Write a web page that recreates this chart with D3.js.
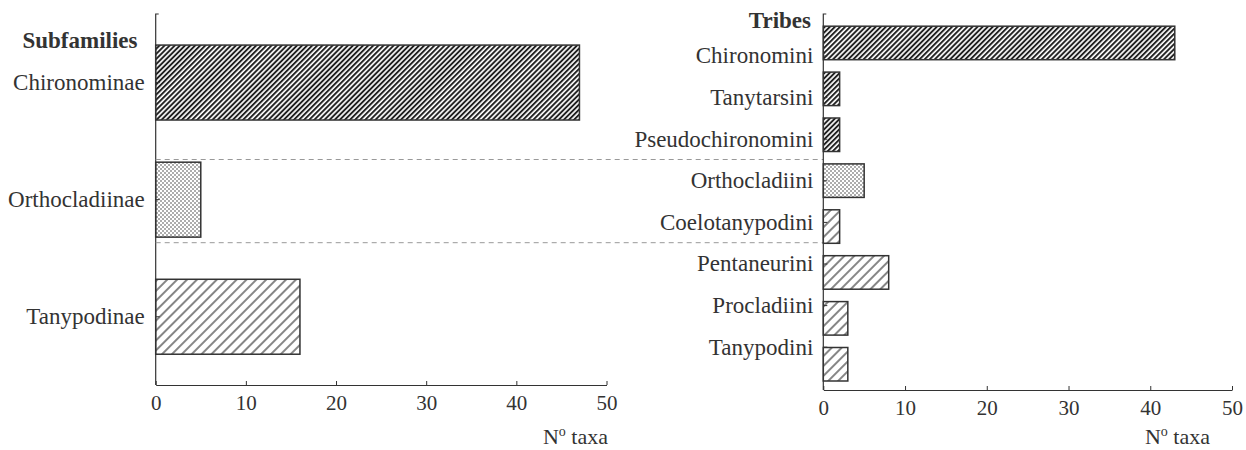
<!DOCTYPE html>
<html>
<head>
<meta charset="utf-8">
<script src="https://cdn.jsdelivr.net/npm/d3@7"></script>
<style>
  body { margin: 0; background: #fff; }
  svg text { font-family: "Liberation Serif", "Times New Roman", serif; fill: #333; }
</style>
</head>
<body>
<div id="chart"></div>
<script>
// data
var subfamilies = ["Chironominae", "Orthocladiinae", "Tanypodinae"];
var subfamilyTaxa = [47, 5, 16];
var subfamilyFill = ["dense", "dots", "sparse"];

var tribes = ["Chironomini", "Tanytarsini", "Pseudochironomini", "Orthocladiini",
              "Coelotanypodini", "Pentaneurini", "Procladiini", "Tanypodini"];
var tribeTaxa = [43, 2, 2, 5, 2, 8, 3, 3];
var tribeFill = ["dense", "dense", "dense", "dots", "sparse", "sparse", "sparse", "sparse"];

var xTicks = [0, 10, 20, 30, 40, 50];
var dividersAfter = ["Pseudochironomini", "Coelotanypodini"];

var svg = d3.select("#chart").append("svg").attr("width", 1246).attr("height", 450);

// hatch patterns
var defs = svg.append("defs");
var dense = defs.append("pattern").attr("id", "dense").attr("patternUnits", "userSpaceOnUse")
  .attr("width", 3.6).attr("height", 3.6).attr("patternTransform", "rotate(45)");
dense.append("rect").attr("width", 3.6).attr("height", 3.6).attr("fill", "#fff");
dense.append("line").attr("x1", 1).attr("y1", 0).attr("x2", 1).attr("y2", 3.6)
  .attr("stroke", "#1a1a1a").attr("stroke-width", 1.9);

var sparse = defs.append("pattern").attr("id", "sparse").attr("patternUnits", "userSpaceOnUse")
  .attr("width", 7).attr("height", 7).attr("patternTransform", "rotate(45)");
sparse.append("rect").attr("width", 7).attr("height", 7).attr("fill", "#fff");
sparse.append("line").attr("x1", 1).attr("y1", 0).attr("x2", 1).attr("y2", 7)
  .attr("stroke", "#222").attr("stroke-width", 1.1);

var dots = defs.append("pattern").attr("id", "dots").attr("patternUnits", "userSpaceOnUse")
  .attr("width", 4).attr("height", 4);
dots.append("rect").attr("width", 4).attr("height", 4).attr("fill", "#fff");
dots.append("circle").attr("cx", 1).attr("cy", 1).attr("r", 0.75).attr("fill", "#333");
dots.append("circle").attr("cx", 3).attr("cy", 3).attr("r", 0.75).attr("fill", "#333");

function styleAxis(g, size) {
  g.selectAll("text").style("font-size", size + "px").attr("fill", "#333");
  g.selectAll("line").attr("stroke", "#333");
  g.selectAll(".domain").attr("stroke", "#333");
}

// ---------- left panel: subfamilies ----------
var xL = d3.scaleLinear().domain([0, 50]).range([155.7, 606.5]);
var yL = d3.scaleBand().domain(subfamilies).range([24, 375.3]).paddingInner(0.36).paddingOuter(0.18);

var left = svg.append("g");

// dashed separators (span both panels), placed between tribe labels
var yLab = d3.scalePoint().domain(tribes).range([55.5, 346.7]);
var xR = d3.scaleLinear().domain([0, 50]).range([823.3, 1232]);

svg.selectAll("line.divider").data(dividersAfter).enter().append("line")
  .attr("class", "divider")
  .attr("x1", xL(0)).attr("x2", xR(0))
  .attr("y1", function(d) { return (yLab(d) + yLab(tribes[tribes.indexOf(d) + 1])) / 2; })
  .attr("y2", function(d) { return (yLab(d) + yLab(tribes[tribes.indexOf(d) + 1])) / 2; })
  .attr("stroke", "#999").attr("stroke-width", 1).attr("stroke-dasharray", "5,4");

left.selectAll("rect").data(subfamilies).enter().append("rect")
  .attr("x", xL(0))
  .attr("y", function(d) { return yL(d); })
  .attr("width", function(d, i) { return xL(subfamilyTaxa[i]) - xL(0); })
  .attr("height", yL.bandwidth())
  .attr("fill", function(d, i) { return "url(#" + subfamilyFill[i] + ")"; })
  .attr("stroke", "#333").attr("stroke-width", 1.5);

var yAxL = left.append("g").attr("transform", "translate(" + xL(0) + ",0)")
  .call(d3.axisLeft(yL).tickSize(-4).tickPadding(11));
yAxL.select(".domain").remove();
styleAxis(yAxL, 23);
left.append("path").attr("d", "M" + (xL(0) + 3) + ",14H" + xL(0) + "V385")
  .attr("fill", "none").attr("stroke", "#333").attr("stroke-width", 1.2);

var xAxL = left.append("g").attr("transform", "translate(0,385)")
  .call(d3.axisBottom(xL).tickValues(xTicks).tickSize(-4).tickSizeOuter(0).tickPadding(10));
styleAxis(xAxL, 21);

left.append("text").attr("x", 80).attr("y", 41).attr("dy", "0.32em")
  .attr("text-anchor", "middle").style("font-size", "23px").style("font-weight", "bold")
  .text("Subfamilies");

var tL = left.append("text").attr("x", 608).attr("y", 444).attr("text-anchor", "end")
  .style("font-size", "22px");
tL.append("tspan").text("N");
tL.append("tspan").attr("dy", -8).style("font-size", "14px").text("o");
tL.append("tspan").attr("dy", 8).text(" taxa");

// ---------- right panel: tribes ----------
var yR = d3.scaleBand().domain(tribes).range([20, 387.2]).paddingInner(0.27).paddingOuter(0.135);
var right = svg.append("g");

right.selectAll("rect").data(tribes).enter().append("rect")
  .attr("x", xR(0))
  .attr("y", function(d) { return yR(d); })
  .attr("width", function(d, i) { return xR(tribeTaxa[i]) - xR(0); })
  .attr("height", yR.bandwidth())
  .attr("fill", function(d, i) { return "url(#" + tribeFill[i] + ")"; })
  .attr("stroke", "#333").attr("stroke-width", 1.5);

var yAxR = right.append("g").attr("transform", "translate(" + xR(0) + ",0)")
  .call(d3.axisLeft(yLab).tickSize(-4).tickPadding(10));
yAxR.select(".domain").remove();
styleAxis(yAxR, 23);
right.append("path").attr("d", "M" + (xR(0) + 3) + ",14H" + xR(0) + "V390")
  .attr("fill", "none").attr("stroke", "#333").attr("stroke-width", 1.2);

var xAxR = right.append("g").attr("transform", "translate(0,390)")
  .call(d3.axisBottom(xR).tickValues(xTicks).tickSize(-4).tickSizeOuter(0).tickPadding(10));
styleAxis(xAxR, 21);

right.append("text").attr("x", 811).attr("y", 20.7).attr("dy", "0.32em")
  .attr("text-anchor", "end").style("font-size", "23px").style("font-weight", "bold")
  .text("Tribes");

var tR = right.append("text").attr("x", 1210).attr("y", 444).attr("text-anchor", "end")
  .style("font-size", "22px");
tR.append("tspan").text("N");
tR.append("tspan").attr("dy", -8).style("font-size", "14px").text("o");
tR.append("tspan").attr("dy", 8).text(" taxa");
</script>
</body>
</html>
